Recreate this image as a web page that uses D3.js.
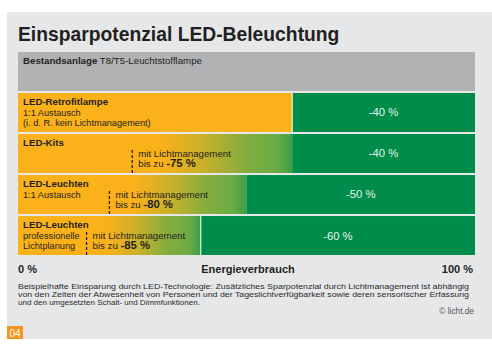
<!DOCTYPE html>
<html>
<head>
<meta charset="utf-8">
<script src="https://cdn.jsdelivr.net/npm/d3@7"></script>
<style>
  body { margin: 0; background: #fff; }
  svg text { font-family: "Liberation Sans", Arial, sans-serif; }
</style>
</head>
<body>
<div id="chart"></div>
<script>
// data
var rowKeys = ["base", "retro", "kits", "leuchten", "planung"];
var rowTitles = ["Bestandsanlage", "LED-Retrofitlampe", "LED-Kits", "LED-Leuchten", "LED-Leuchten"];
var rowSubtitles = [[], ["1:1 Austausch", "(i. d. R. kein Lichtmanagement)"], [], ["1:1 Austausch"], ["professionelle", "Lichtplanung"]];
var baseLamp = "T8/T5-Leuchtstofflampe";
var savings = [0, 40, 40, 50, 60];          // % saved by LED alone
var lmSavings = [null, null, 75, 80, 85];   // % saved with Lichtmanagement
var axisLabels = ["0 %", "Energieverbrauch", "100 %"];
var footnote = [
    "Beispielhafte Einsparung durch LED-Technologie: Zusätzliches Sparpotenzial durch Lichtmanagement ist abhängig",
    "von den Zeiten der Abwesenheit von Personen und der Tageslichtverfügbarkeit sowie deren sensorischer Erfassung",
    "und den umgesetzten Schalt- und Dimmfunktionen."
];

var W = 492, H = 347;
var orange = "#fbb11a", green = "#008c4b", dark = "#231f20";
var fs = 9.7;

var svg = d3.select("#chart").append("svg")
    .attr("width", W).attr("height", H);

// panel
svg.append("rect").attr("x", 7).attr("y", 12).attr("width", W - 7).attr("height", 327)
    .attr("fill", "#e6e7e9");

svg.append("text").attr("x", 18).attr("y", 41)
    .attr("font-size", 19.3).attr("font-weight", "bold").attr("fill", dark)
    .text("Einsparpotenzial LED-Beleuchtung");

var x = d3.scaleLinear().domain([0, 100]).range([18, 475]);
var y = d3.scaleBand().domain(rowKeys).range([52, 255]).paddingInner(0.05).paddingOuter(0);
var bw = y.bandwidth();

var defs = svg.append("defs");

var rows = svg.selectAll(".row")
    .data(rowKeys)
    .enter().append("g")
    .attr("class", "row")
    .attr("transform", function (d) { return "translate(0," + y(d) + ")"; });

rows.each(function (key, i) {
    var g = d3.select(this);
    if (i == 0) {
        g.append("rect").attr("x", x(0)).attr("width", x(100) - x(0)).attr("height", bw)
            .attr("fill", "#b1b2b4");
        var t = g.append("text").attr("x", 23).attr("y", 12).attr("font-size", fs).attr("fill", dark);
        t.append("tspan").attr("font-weight", "bold").text(rowTitles[i]);
        t.append("tspan").text(" " + baseLamp);
        return;
    }
    var split = x(100 - savings[i]);
    g.append("rect").attr("x", x(0)).attr("width", split - x(0)).attr("height", bw).attr("fill", orange);

    if (lmSavings[i] != null) {
        var lx = x(100 - lmSavings[i]);
        var gid = "grad" + i;
        var grad = defs.append("linearGradient").attr("id", gid)
            .attr("gradientUnits", "userSpaceOnUse")
            .attr("x1", lx).attr("x2", split).attr("y1", 0).attr("y2", 0);
        [[0, orange], [0.18, orange], [0.45, "#c8b02a"], [0.7, "#86ad3d"], [0.9, "#6aab45"], [1, "#3b9e48"]]
            .forEach(function (s) { grad.append("stop").attr("offset", s[0]).attr("stop-color", s[1]); });
        g.append("rect").attr("x", lx).attr("width", split - lx).attr("height", bw)
            .attr("fill", "url(#" + gid + ")");
    }

    g.append("rect").attr("x", split).attr("width", x(100) - split).attr("height", bw).attr("fill", green);
    if (i == 1 || i == 4) {
        g.append("line").attr("x1", split).attr("x2", split).attr("y1", 0).attr("y2", bw)
            .attr("stroke", "#fff").attr("stroke-width", 1);
    }

    // labels
    g.append("text").attr("x", 23).attr("y", 12).attr("font-size", fs).attr("font-weight", "bold")
        .attr("fill", dark).text(rowTitles[i]);
    rowSubtitles[i].forEach(function (s, j) {
        g.append("text").attr("x", 23).attr("y", 22.5 + j * 10.5).attr("font-size", 9.2)
            .attr("fill", dark).text(s);
    });

    g.append("text").attr("x", (split + x(100)) / 2).attr("y", bw / 2 + 4)
        .attr("text-anchor", "middle").attr("font-size", 11.3).attr("fill", "#e4f2e6")
        .text("-" + savings[i] + " %");

    if (lmSavings[i] != null) {
        var lx2 = x(100 - lmSavings[i]);
        g.append("line").attr("x1", lx2).attr("x2", lx2).attr("y1", 16).attr("y2", bw)
            .attr("stroke", dark).attr("stroke-width", 1.3).attr("stroke-dasharray", "3,2");
        g.append("text").attr("x", lx2 + 6).attr("y", 22.5).attr("font-size", fs)
            .attr("fill", dark).text("mit Lichtmanagement");
        var t2 = g.append("text").attr("x", lx2 + 6).attr("y", 33).attr("font-size", fs).attr("fill", dark);
        t2.append("tspan").text("bis zu ");
        t2.append("tspan").attr("font-weight", "bold").attr("font-size", 11.3).text("-" + lmSavings[i] + " %");
    }
});

// axis labels
svg.append("text").attr("x", x(0)).attr("y", 272.5).attr("font-size", 11).attr("font-weight", "bold")
    .attr("fill", dark).text(axisLabels[0]);
svg.append("text").attr("x", 248).attr("y", 272.5).attr("text-anchor", "middle").attr("font-size", 11)
    .attr("font-weight", "bold").attr("fill", dark).text(axisLabels[1]);
svg.append("text").attr("x", 473).attr("y", 272.5).attr("text-anchor", "end").attr("font-size", 11)
    .attr("font-weight", "bold").attr("fill", dark).text(axisLabels[2]);

// footnote
footnote.forEach(function (s, i) {
    var t = svg.append("text").attr("x", 18).attr("y", 289 + i * 8.1).attr("font-size", 8)
        .attr("fill", "#2a2a2a").text(s);
    if (i < 2) t.attr("textLength", 451).attr("lengthAdjust", "spacingAndGlyphs");
});
svg.append("text").attr("x", 474).attr("y", 314).attr("text-anchor", "end").attr("font-size", 8.3)
    .attr("fill", "#555").text("© licht.de");

// page number
svg.append("rect").attr("x", 7).attr("y", 326).attr("width", 16).attr("height", 13).attr("fill", "#f7941d");
svg.append("text").attr("x", 15).attr("y", 336.5).attr("text-anchor", "middle").attr("font-size", 10)
    .attr("fill", "#fff").text("04");
</script>
</body>
</html>
